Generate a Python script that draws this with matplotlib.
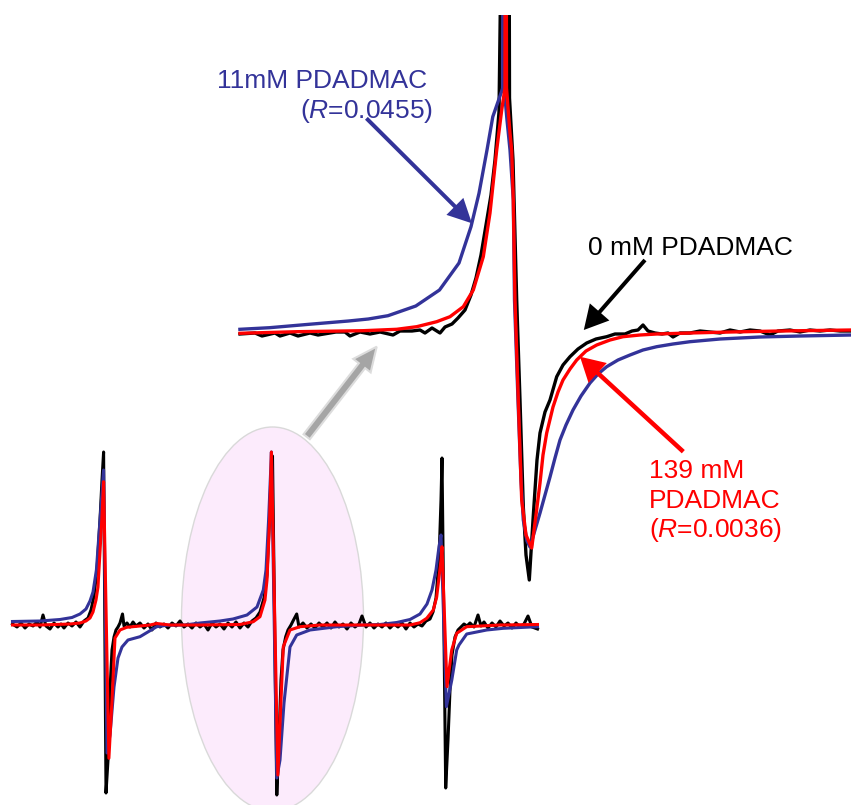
import matplotlib.pyplot as plt
from matplotlib.patches import Ellipse, FancyArrow

plt.rcParams['font.family'] = ['Liberation Sans', 'DejaVu Sans']
plt.rcParams['mathtext.fontset'] = 'custom'
plt.rcParams['mathtext.it'] = 'Liberation Sans:italic'
plt.rcParams['mathtext.rm'] = 'Liberation Sans'

AZUL = '#333399'
VERMELHO = '#ff0000'

# espectro completo (campo em G, intensidade em u.a.)
campo_preto = [-25.95, -25.5, -25.1, -24.7, -24.3, -23.9, -23.5, -23.2, -22.9, -22.6, -22.2, -21.8, -21.4,
               -21.1, -20.8, -20.4, -20.0, -19.6, -19.2, -18.8, -18.4, -18.1, -17.8, -17.5, -17.2, -17.0,
               -16.84, -16.6, -16.4, -16.2, -16.0, -15.8, -15.6, -15.4, -15.2, -14.95, -14.8, -14.5, -14.2,
               -13.9, -13.6, -13.2, -12.8, -12.4, -12.0, -11.6, -11.2, -10.8, -10.4, -10.0, -9.6, -9.2, -8.8,
               -8.4, -8.0, -7.6, -7.2, -6.8, -6.4, -6.0, -5.6, -5.2, -4.8, -4.4, -4.0, -3.6, -3.2, -2.8, -2.4,
               -2.0, -1.6, -1.2, -0.8, -0.5, -0.3, -0.1, 0.05, 0.48, 0.7, 0.9, 1.1, 1.37, 1.6, 1.9, 2.1, 2.47,
               2.7, 3.1, 3.5, 3.9, 4.3, 4.7, 5.1, 5.5, 5.9, 6.3, 6.7, 7.1, 7.5, 7.9, 8.3, 8.7, 9.0, 9.4, 9.8,
               10.2, 10.6, 11.0, 11.4, 11.8, 12.2, 12.6, 13.0, 13.4, 13.8, 14.2, 14.6, 15.0, 15.4, 15.8, 16.1,
               16.4, 16.7, 16.9, 17.0, 17.37, 17.6, 17.8, 18.0, 18.3, 18.6, 18.9, 19.2, 19.5, 19.8, 20.2, 20.6,
               20.9, 21.2, 21.6, 22.0, 22.4, 22.8, 23.2, 23.6, 24.0, 24.4, 24.8, 25.2, 25.6, 26.0, 26.55]
sinal_preto = [0.01, -0.02, 0.02, -0.03, 0.01, -0.01, 0.03, -0.02, 0.10, -0.01, -0.04, 0.02, -0.02,
               0.01, -0.03, 0.02, -0.01, 0.03, -0.02, 0.04, 0.07, 0.15, 0.29, 0.55, 1.05, 1.45,
               1.73, -1.68, -1.35, -0.65, -0.25, -0.12, -0.05, -0.02, 0.02, 0.11, -0.01, 0.02, -0.02,
               0.03, -0.01, 0.02, -0.03, 0.01, -0.05, 0.02, -0.02, 0.01, -0.03, 0.02, -0.01, 0.04, -0.02,
               0.01, -0.03, 0.02, -0.02, 0.01, -0.05, 0.02, -0.02, 0.01, -0.04, 0.02, -0.02, 0.03, -0.03, 0.02, -0.02,
               0.04, 0.07, 0.13, 0.27, 0.50, 0.95, 1.45, 1.69, -1.70, -1.15, -0.55, -0.25, -0.117, -0.05, 0.0, 0.04, 0.11,
               -0.02, 0.02, -0.03, 0.01, -0.03, 0.02, -0.02, 0.02, -0.03, 0.03, -0.02, 0.01, -0.04, 0.02, -0.02, 0.01, 0.09, -0.02, 0.02,
               -0.03, 0.01, -0.02, 0.02, -0.03, 0.01, -0.02, 0.02, -0.04, 0.02, -0.02, 0.01, -0.01, 0.04, 0.06, 0.13,
               0.27, 0.65, 1.25, 1.67, -1.63, -1.15, -0.65, -0.30, -0.12, -0.05, -0.02, 0.01, -0.01, 0.02, -0.02, 0.10,
               -0.01, 0.03, -0.03, 0.02, -0.02, 0.04, -0.01, 0.02, -0.03, 0.02, -0.02, 0.01, 0.09, -0.02, -0.04]

campo_azul = [-25.95, -23.2, -21.2, -20.0, -19.2, -18.6, -18.2, -17.9, -17.56, -17.2, -16.84, -16.5, -16.2,
              -15.8, -15.4, -15.0, -14.4, -13.2, -11.53, -10.53, -8.7, -7.2, -5.2, -3.9, -2.5, -1.5, -0.87,
              -0.6, -0.34, -0.13, -0.06, 0.48, 0.8, 1.2, 1.8, 2.47, 3.8, 6.47, 9.13, 10.8, 12.47, 13.8, 14.8,
              15.5, 16.0, 16.4, 16.7, 16.9, 17.44, 17.98, 18.47, 18.7, 19.47, 21.47, 23.13, 26.55]
sinal_azul = [0.035, 0.04, 0.055, 0.075, 0.11, 0.16, 0.24, 0.33, 0.55, 1.05, 1.55, -1.28, -1.10,
              -0.62, -0.33, -0.22, -0.15, -0.117, -0.017, -0.003, 0.0, 0.02, 0.04, 0.06, 0.10, 0.18, 0.35,
              0.55, 1.05, 1.55, 1.73, -1.53, -1.35, -0.78, -0.22, -0.10, -0.05, -0.017, 0.0, 0.005, 0.025, 0.055, 0.11,
              0.21, 0.35, 0.55, 0.783, 0.90, -0.817, -0.55, -0.25, -0.20, -0.09, -0.05, -0.033, -0.017]

campo_vermelho = [-25.95, -23.2, -20.2, -19.2, -18.6, -18.2, -17.9, -17.6, -17.4, -17.02, -16.84, -16.31,
                  -16.0, -15.7, -15.2, -14.53, -12.2, -11.53, -10.2, -7.2, -3.2, -1.87, -1.2, -0.7, -0.5,
                  -0.24, -0.06, 0.59, 0.9, 1.13, 1.8, 2.8, 4.8, 10.8, 13.8, 14.8, 15.47, 16.13, 16.47, 16.9,
                  17.0, 17.5, 17.97, 18.47, 19.47, 22.8, 26.55]
sinal_vermelho = [0.0, 0.0, 0.01, 0.02, 0.04, 0.07, 0.13, 0.25, 0.38, 1.05, 1.433, -1.333,
                  -0.75, -0.13, -0.05, -0.023, 0.0, 0.015, 0.0, 0.0, 0.005, 0.033, 0.083, 0.25, 0.45,
                  1.05, 1.73, -1.50, -0.75, -0.217, -0.05, -0.017, 0.0, 0.0, 0.0, 0.023, 0.067, 0.15, 0.28, 0.65,
                  0.783, -0.617, -0.25, -0.083, -0.017, 0.0, 0.005]

# linha central ampliada
zoom_campo_preto = [-5.30, -5.00, -4.86, -4.60, -4.50, -4.30, -4.14, -3.90, -3.74, -3.56, -3.38, -3.20, -3.10,
                    -2.90, -2.70, -2.50, -2.24, -2.10, -1.86, -1.70, -1.60, -1.46, -1.30, -1.20, -1.06, -0.94,
                    -0.80, -0.68, -0.58, -0.48, -0.38, -0.28, -0.20, -0.12, 0.06, 0.09, 0.16, 0.234, 0.30,
                    0.366, 0.42, 0.486, 0.56, 0.64, 0.70, 0.80, 0.90, 1.034, 1.16, 1.30, 1.46, 1.634, 1.82,
                    2.034, 2.20, 2.40, 2.54, 2.66, 2.76, 2.86, 3.00, 3.14, 3.26, 3.36, 3.50, 3.70, 3.90, 4.10,
                    4.30, 4.50, 4.70, 4.90, 5.10, 5.30, 5.46, 5.70, 5.90, 6.10, 6.30, 6.50, 6.70, 6.92]
zoom_sinal_preto = [-0.04, -0.03, -0.06, -0.03, -0.06, -0.03, -0.06, -0.03, -0.05, -0.035, -0.02, -0.02, -0.06,
                    -0.02, -0.04, -0.02, -0.05, -0.01, -0.01, 0.0, -0.03, 0.02, -0.03, 0.03, 0.06, 0.12,
                    0.20, 0.35, 0.52, 0.75, 1.05, 1.35, 1.70, 2.18, 9.30, 2.32, 1.70, 0.30, -0.70,
                    -1.767, -2.25, -2.50, -1.90, -1.30, -1.03, -0.82, -0.70, -0.467, -0.35, -0.267, -0.19, -0.13, -0.09,
                    -0.067, -0.04, -0.04, -0.01, 0.0, 0.05, -0.01, -0.03, -0.04, -0.03, -0.07, -0.03, -0.03, -0.01, -0.02,
                    -0.03, 0.0, -0.02, 0.0, -0.01, -0.05, -0.01, 0.0, -0.02, 0.0, -0.01, 0.0, -0.01, -0.01]

zoom_campo_azul = [-5.302, -4.71, -3.92, -3.128, -2.734, -2.34, -1.784, -1.31, -0.92, -0.68, -0.52, -0.36,
                   -0.244, -0.046, -0.028, -0.01, 0.04, 0.10, 0.166, 0.19, 0.26, 0.32, 0.366, 0.44, 0.50,
                   0.60, 0.70, 0.80, 0.90, 1.00, 1.10, 1.22, 1.36, 1.52, 1.70, 1.86, 2.034, 2.26, 2.50, 2.76,
                   3.034, 3.36, 3.70, 4.30, 5.10, 5.90, 6.92]
zoom_sinal_azul = [0.007, 0.023, 0.057, 0.09, 0.11, 0.143, 0.24, 0.40, 0.67, 1.033, 1.367, 1.80,
                   2.133, 2.417, 9.30, 2.38, 2.10, 1.80, 1.30, 0.30, -0.70, -1.50, -1.90, -2.11, -2.17,
                   -2.00, -1.83, -1.65, -1.47, -1.28, -1.10, -0.95, -0.80, -0.66, -0.53, -0.44, -0.367, -0.30, -0.25, -0.20,
                   -0.167, -0.14, -0.117, -0.09, -0.07, -0.06, -0.05]

zoom_campo_vermelho = [-5.30, -4.166, -2.84, -2.166, -1.766, -1.366, -1.10, -0.834, -0.634, -0.434, -0.30,
                       -0.166, -0.066, 0.0, 0.01, 0.03, 0.10, 0.134, 0.166, 0.20, 0.266, 0.334, 0.42, 0.534,
                       0.62, 0.70, 0.76, 0.834, 0.96, 1.06, 1.16, 1.30, 1.434, 1.62, 1.834, 2.10, 2.36, 2.70,
                       3.034, 3.70, 4.50, 5.50, 6.92]
zoom_sinal_vermelho = [-0.033, -0.017, -0.007, 0.007, 0.033, 0.083, 0.133, 0.233, 0.40, 0.733, 1.17,
                       1.80, 2.20, 2.42, 9.30, 2.42, 1.97, 1.80, 1.30, 0.30, -0.70, -1.70, -2.05, -2.18,
                       -1.85, -1.53, -1.25, -1.03, -0.77, -0.62, -0.50, -0.39, -0.30, -0.21, -0.15, -0.10, -0.067, -0.05,
                       -0.04, -0.03, -0.02, -0.01, 0.0]

fig = plt.figure(figsize=(8.51, 8.05), dpi=100)

# espectro inteiro embaixo
ax = fig.add_axes([0, 0, 1, 1])
ax.set_xlim(-27.2, 57.9)
ax.set_ylim(-1.80, 6.25)
ax.axis('off')
ax.add_patch(Ellipse((0.05, 0.06), 18.2, 3.84, facecolor='#fcebfc', edgecolor='#d9d9d9', lw=1, zorder=0))
ax.plot(campo_preto, sinal_preto, color='black', lw=2.2)
ax.plot(campo_azul, sinal_azul, color=AZUL, lw=2.2)
ax.plot(campo_vermelho, sinal_vermelho, color=VERMELHO, lw=2.2)

# linha central ampliada
ax2 = fig.add_axes([238 / 851, 215 / 805, 613 / 851, 575 / 805])
ax2.set_xlim(-5.34, 6.92)
ax2.set_ylim(-2.60, 3.15)
ax2.axis('off')
ax2.patch.set_alpha(0)
ax2.plot(zoom_campo_preto, zoom_sinal_preto, color='black', lw=2.4)
ax2.plot(zoom_campo_azul, zoom_sinal_azul, color=AZUL, lw=2.4)
ax2.plot(zoom_campo_vermelho, zoom_sinal_vermelho, color=VERMELHO, lw=2.4)

# setas e textos (coordenadas em pixels)
ov = fig.add_axes([0, 0, 1, 1])
ov.set_xlim(0, 851)
ov.set_ylim(805, 0)
ov.axis('off')
ov.patch.set_alpha(0)

ov.add_patch(FancyArrow(306.7, 436.7, 70, -90, width=8, head_width=22, head_length=24,
                        length_includes_head=True, fc='#a5a5a5', ec='#dcdcdc', lw=1.5))
ov.add_patch(FancyArrow(366.4, 118.3, 105.5, 105, width=4, head_width=24, head_length=24,
                        length_includes_head=True, fc=AZUL, ec=AZUL, lw=0))
ov.add_patch(FancyArrow(645, 260, -61.2, 70, width=4, head_width=26, head_length=24,
                        length_includes_head=True, fc='black', ec='black', lw=0))
ov.add_patch(FancyArrow(683.3, 451.7, -103.3, -95, width=4.5, head_width=27, head_length=24,
                        length_includes_head=True, fc=VERMELHO, ec=VERMELHO, lw=0))

fs = 19
ov.text(216.7, 88.3, '11mM PDADMAC', color=AZUL, fontsize=fs, va='baseline')
ov.text(300, 118.3, r'($\mathit{R}$=0.0455)', color=AZUL, fontsize=fs, va='baseline')
ov.text(587.7, 255, '0 mM PDADMAC', color='black', fontsize=fs, va='baseline')
ov.text(649, 478.3, '139 mM', color=VERMELHO, fontsize=fs, va='baseline')
ov.text(649, 508.3, 'PDADMAC', color=VERMELHO, fontsize=fs, va='baseline')
ov.text(649, 536.7, r'($\mathit{R}$=0.0036)', color=VERMELHO, fontsize=fs, va='baseline')

plt.savefig('out.png', dpi=100)
